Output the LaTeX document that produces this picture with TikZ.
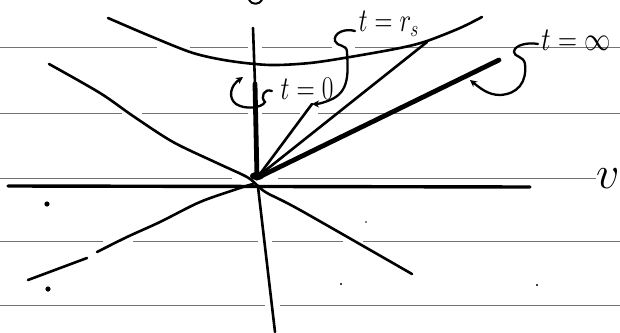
\documentclass[tikz,border=0pt]{standalone}
\usepackage{graphicx}
\usetikzlibrary{arrows.meta,calc}
\begin{document}
\begin{tikzpicture}[x=1pt,y=-1pt,
  ink/.style={line width=2.6pt, line cap=round, line join=round},
  heavy/.style={line width=4.8pt, line cap=round},
  rulel/.style={black!55, line width=0.9pt},
  lbl/.style={inner sep=0pt},
  curl/.style={line width=2.3pt, line cap=round, -{Stealth[length=7pt,width=7pt]}}
]
\useasboundingbox (0,0) rectangle (620,332);
\fill[white] (0,0) rectangle (620,332);
% ruled paper
\draw[rulel] (0,47)--(157,47) (190,47)--(248,47) (262,47)--(332,47) (355,47)--(620,47);
\draw[rulel] (0,113)--(122,113) (142,113)--(248,113) (262,113)--(300,113) (318,113)--(620,113);
\draw[rulel] (0,178)--(232,178) (278,178)--(596,178);
\draw[rulel] (0,241)--(103,241) (133,241)--(258,241) (272,241)--(343,241) (363,241)--(620,241);
\draw[rulel] (0,305)--(265,305) (280,305)--(620,305);
% key points
\coordinate (O) at (257,178);
\coordinate (X) at (258,187);
\coordinate (hl) at (8,186);
\coordinate (hr) at (530,187);
\coordinate (vt) at (253,28);
\coordinate (vm) at (255,84);
\coordinate (vb) at (275,332);
\coordinate (r1) at (312,104);
\coordinate (r2) at (427,42);
\coordinate (r3) at (499,60);
% axes
\draw[ink, line width=3.4pt] (hl) -- (hr);
\draw[ink] (vt) -- (vm);
\draw[ink] (X) -- (vb);
\draw[heavy] (vm) -- (O);
% diagonals
\draw[ink] plot[smooth] coordinates {(49,64) (100,93) (133,116) (173,142) (217,163) (247,177) (258,186) (267,193) (300,210) (412,274)};
\draw[ink] plot[smooth] coordinates {(253,184) (240,188) (200,202) (160,222) (127,237) (97,252)};
\draw[ink] (87,258) -- (28,280);
% rays
\draw[ink] (O) -- (r1);
\draw[ink] ($(O)+(4,-4)$) -- (r2);
\draw[heavy] (O) -- (r3);
\fill (257,176) ellipse (7pt and 4pt);
% hyperbola
\draw[ink] plot[smooth] coordinates {(108,18) (150,36) (193,53) (230,61) (270,65) (310,63) (350,57) (400,48) (427,41) (460,28) (482,17)};
% labels
\node[lbl, font=\fontsize{20.74}{21}\selectfont] (lrs) at (389,24) {\scalebox{1.2}[1.6]{$t=r_s$}};
\node[lbl, font=\fontsize{20.74}{21}\selectfont] (linf) at (576,40) {\scalebox{1.27}[1.6]{$t=\infty$}};
\node[lbl, font=\fontsize{20.74}{21}\selectfont] (lzero) at (307,89) {\scalebox{1.22}[1.6]{$t=0$}};
\node[lbl, anchor=base west, font=\fontsize{24.88}{25}\selectfont] (lv) at (596,188) {\scalebox{1.85}{$v$}};
% curly pointers
\draw[curl] (355,31) .. controls (345,28) and (333,33) .. (335,41) .. controls (337,47) and (347,44) .. (347,52) .. controls (348,72) and (350,92) .. (330,100) .. controls (323,103) and (318,104) .. (r1);
\draw[curl] (538,44) .. controls (528,42) and (514,45) .. (514,52) .. controls (514,57) and (524,56) .. (525,64) .. controls (527,82) and (518,94) .. (500,95) .. controls (488,95) and (480,88) .. (470,80);
\draw[curl] (272,91) .. controls (264,88) and (260,97) .. (265,102) .. controls (262,108) and (245,110) .. (236,104) .. controls (228,98) and (230,86) .. (243,77);
% specks
\fill (47,204) circle (2.6pt);
\fill (48,289) circle (2.6pt);
\fill (366,222) circle (0.9pt);
\fill (341,284) circle (1.1pt);
\fill (537,285) circle (1.1pt);
\draw[ink, line width=2pt] (249,0) .. controls (252,5) and (259,5) .. (262,0);
\end{tikzpicture}
\end{document}
